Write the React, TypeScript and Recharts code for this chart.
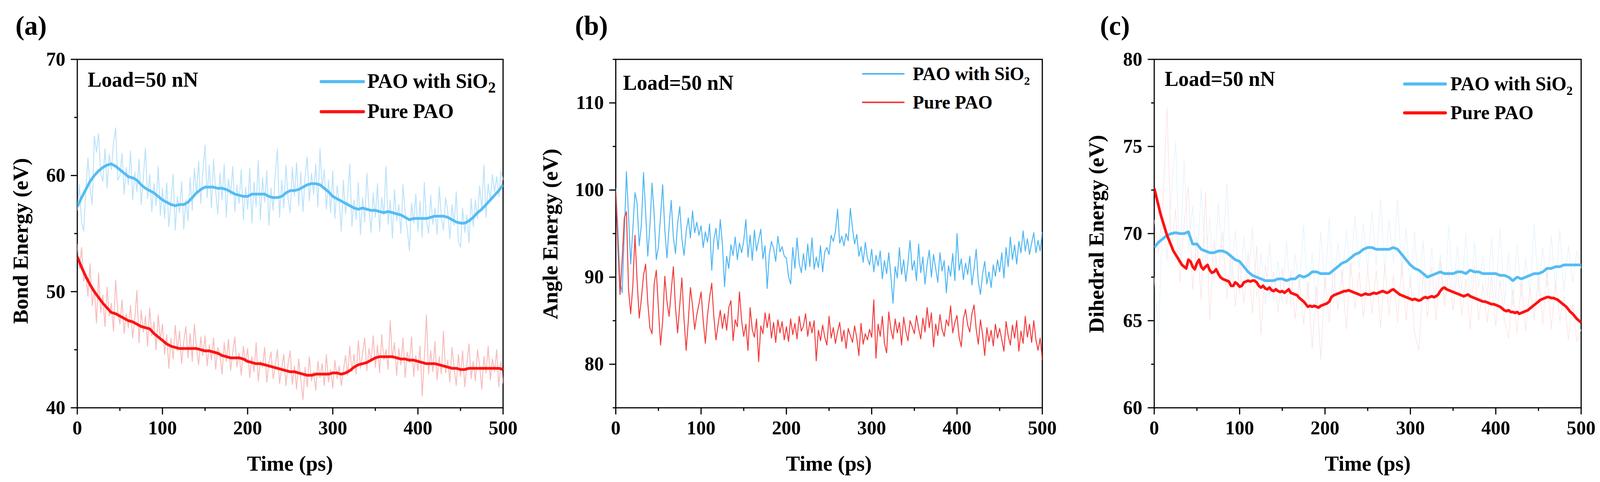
import { LineChart, Line, XAxis, YAxis, ReferenceArea } from 'recharts';

const FONT = '"Liberation Serif", "Times New Roman", Times, serif';

// the figure is laid out on a 4160 px wide sheet; the browser viewport is narrower,
// so the sheet is squeezed horizontally to fit it
const SHEET_W = 4160;
const SHEET_H = 1234;

// time axis: raw traces sampled every 2.5 ps, smoothed traces every 5 ps
const BASE_STEP = 2.5;
const X_TICKS = [0, 50, 100, 150, 200, 250, 300, 350, 400, 450, 500];
const X_MAJOR = [0, 100, 200, 300, 400, 500];

// ---------- (a) Bond energy ----------
const A_Y_TICKS = [40, 45, 50, 55, 60, 65, 70];
const A_Y_MAJOR = [40, 50, 60, 70];
const A_BLUE_RAW = [
  57.0, 59.2, 56.0, 55.2, 58.8, 61.5, 59.0, 57.5, 63.4, 62.0, 63.6, 60.2, 59.5, 62.3, 58.9, 61.8, 60.5, 62.8, 64.1, 59.6,
  60.0, 61.9, 58.4, 60.7, 59.2, 62.1, 57.9, 60.3, 58.6, 61.4, 57.5, 59.8, 62.4, 58.0, 60.1, 56.9, 59.3, 57.4, 60.8, 56.6,
  58.9, 56.3, 59.4, 55.6, 57.8, 60.1, 55.3, 58.2, 56.8, 59.5, 55.4, 57.9, 56.1, 59.8, 57.0, 60.6, 58.4, 61.2, 57.6, 60.4,
  62.6, 58.1, 60.9, 57.2, 61.4, 58.6, 56.7, 60.2, 57.9, 61.0, 56.4, 59.7, 58.3, 60.8, 56.9, 59.2, 57.6, 60.5, 56.2, 59.0,
  57.1, 60.6, 55.9, 59.4, 57.3, 61.3, 56.2, 59.8, 57.7, 60.4, 55.7, 58.9, 57.0, 60.2, 62.3, 56.4, 59.6, 57.2, 60.9, 58.0,
  56.8, 60.7, 58.2, 61.1, 57.4, 60.3, 56.9, 59.9, 61.6, 57.8, 60.2, 58.4, 61.0, 57.3, 62.3, 58.9, 60.5, 57.1, 59.6, 56.8,
  60.4, 56.3, 59.1, 57.8, 55.2, 59.6, 56.7, 58.3, 61.0, 55.6, 57.9, 56.2, 59.4, 54.9, 58.1, 56.0, 60.2, 57.3, 55.1, 58.5,
  56.4, 59.3, 55.2, 58.1, 56.6, 60.8, 55.8, 57.9, 54.6, 58.8, 56.1, 57.5, 55.0, 59.2, 56.8, 55.4, 53.5, 57.6, 55.9, 58.4,
  55.2, 57.8, 54.7, 59.4, 56.1, 55.0, 58.3, 55.8, 57.2, 54.9, 59.0, 56.4, 55.3, 58.1, 56.9, 54.6, 57.5, 55.7, 58.6, 54.3,
  53.8, 57.2, 55.1, 56.6, 54.2, 58.0, 55.6, 57.9, 56.3, 59.1, 57.0, 60.9, 56.4, 59.3, 57.8, 60.1, 58.6, 59.9, 58.2, 60.4,
  59.6,
];
const A_RED_RAW = [
  54.1, 52.0, 53.8, 50.9, 51.5, 49.6, 52.4, 48.8, 50.2, 47.3, 51.6, 48.2, 49.7, 47.0, 50.4, 47.9, 49.0, 46.6, 51.0, 48.3,
  47.2, 49.3, 46.4, 48.1, 46.9, 48.8, 46.0, 47.7, 50.1, 45.6, 48.4, 46.5, 47.9, 45.3, 48.6, 46.2, 47.4, 45.0, 48.0, 45.8,
  47.2, 44.6, 46.3, 43.4, 46.0, 44.2, 47.1, 44.9, 46.6, 43.8, 45.7, 47.0, 44.3, 46.4, 44.0, 47.2, 45.1, 43.7, 46.1, 44.5,
  46.2, 43.6, 45.4, 44.1, 46.0, 43.3, 45.2, 44.6, 42.9, 45.6, 44.0, 45.9, 43.2, 44.8, 46.1, 43.5, 44.7, 42.8, 45.3, 43.9,
  45.1, 42.6, 44.4, 43.1, 45.6, 42.3, 44.0, 43.5, 45.2, 42.2, 43.9, 44.8, 42.5, 43.7, 45.0, 42.1, 43.4, 44.6, 41.9, 43.8,
  44.9, 42.0, 43.6, 41.6, 44.2, 42.4, 40.7, 43.5, 41.8, 44.4, 42.3, 43.1, 41.5, 44.0, 42.6, 43.8, 41.9, 44.6, 42.2, 43.3,
  41.7, 44.1, 42.5, 43.6, 41.9, 43.2, 44.5, 42.8, 45.3, 43.1, 44.6, 42.9, 45.8, 43.4, 44.7, 46.0, 43.2, 45.1, 44.0, 46.2,
  43.5, 45.4, 43.0, 46.3, 44.1, 45.0, 43.3, 47.5, 44.2, 45.6, 42.8, 45.1, 43.7, 46.0, 42.6, 44.8, 43.9, 46.1, 42.7, 44.5,
  43.2, 45.3, 41.0, 44.2, 48.0, 42.9, 44.9, 43.1, 45.7, 42.4, 44.4, 42.9, 46.6, 43.0, 44.1, 42.2, 45.2, 43.4, 41.9, 44.6,
  42.7, 44.9, 41.8, 43.8, 45.5, 42.5, 44.0, 42.3, 45.0, 43.6, 41.6, 44.4, 43.0, 45.3, 42.4, 44.2, 43.1, 45.0, 41.8, 44.0,
  42.1,
];
const A_BLUE_SMOOTH = [
  57.3, 58.1, 58.8, 59.5, 60.0, 60.4, 60.7, 60.9, 61.0, 60.8,
  60.5, 60.2, 59.9, 59.8, 59.6, 59.2, 58.9, 58.7, 58.5, 58.2,
  57.9, 57.7, 57.5, 57.4, 57.5, 57.5, 57.7, 58.1, 58.5, 58.8,
  59.0, 59.0, 59.0, 58.9, 58.9, 58.8, 58.6, 58.4, 58.3, 58.2,
  58.2, 58.4, 58.4, 58.4, 58.4, 58.2, 58.1, 58.1, 58.2, 58.5,
  58.7, 58.7, 58.8, 59.0, 59.2, 59.3, 59.3, 59.2, 58.9, 58.6,
  58.2, 58.0, 57.8, 57.6, 57.4, 57.2, 57.1, 57.2, 57.1, 57.0,
  57.0, 56.9, 56.8, 56.9, 56.8, 56.7, 56.6, 56.4, 56.2, 56.3,
  56.3, 56.3, 56.3, 56.4, 56.5, 56.5, 56.5, 56.4, 56.2, 56.0,
  55.9, 55.9, 56.1, 56.4, 56.8, 57.1, 57.5, 57.9, 58.3, 58.7,
  59.2,
];
const A_RED_SMOOTH = [
  53.0, 52.1, 51.3, 50.6, 50.0, 49.5, 49.0, 48.6, 48.2, 48.1,
  47.9, 47.7, 47.5, 47.4, 47.2, 47.0, 46.9, 46.8, 46.4, 46.1,
  45.8, 45.5, 45.3, 45.2, 45.1, 45.1, 45.1, 45.1, 45.1, 45.0,
  44.9, 44.9, 44.8, 44.7, 44.5, 44.4, 44.3, 44.3, 44.3, 44.2,
  44.0, 43.9, 43.8, 43.8, 43.7, 43.6, 43.5, 43.4, 43.3, 43.2,
  43.1, 43.1, 43.0, 42.9, 42.8, 42.8, 42.9, 42.9, 42.9, 42.9,
  43.0, 43.0, 42.9, 43.0, 43.2, 43.5, 43.7, 43.8, 43.9, 44.1,
  44.3, 44.4, 44.4, 44.4, 44.4, 44.3, 44.2, 44.2, 44.1, 44.1,
  44.0, 43.9, 43.8, 43.8, 43.8, 43.7, 43.6, 43.5, 43.4, 43.4,
  43.3, 43.3, 43.4, 43.4, 43.4, 43.4, 43.4, 43.4, 43.4, 43.4,
  43.3,
];

// ---------- (b) Angle energy ----------
const B_Y_TICKS = [75, 80, 85, 90, 95, 100, 105, 110, 115];
const B_Y_MAJOR = [80, 90, 100, 110];
const B_BLUE = [
  100.2, 95.5, 89.5, 88.2, 95.0, 102.1, 97.0, 91.5, 95.5, 99.7, 98.5, 93.6, 96.0, 102.0, 97.5, 92.4, 95.8, 100.8, 97.2, 92.0,
  93.5, 97.0, 100.6, 95.4, 92.2, 95.8, 98.8, 94.6, 92.7, 96.2, 98.1, 94.4, 92.5, 95.2, 96.8, 94.5, 97.6, 95.1, 96.3, 94.8,
  95.9, 93.4, 95.2, 94.0, 96.1, 90.8, 94.3, 95.6, 93.2, 96.6, 93.8, 88.9, 92.4, 91.0, 93.7, 92.5, 94.6, 92.0, 93.9, 92.8,
  94.2, 96.6, 92.3, 94.8, 91.9, 95.4, 93.0, 94.3, 95.5, 92.1, 93.6, 88.7, 92.6, 94.1, 93.3, 91.8, 94.7, 92.9, 93.5, 92.4,
  92.2, 90.1, 89.2, 93.4, 91.0, 94.5, 91.6, 90.5, 92.7, 90.8, 93.8, 91.2, 94.5, 90.9, 92.3, 91.1, 93.6, 90.6, 92.9, 93.4,
  92.6, 94.8, 94.1, 95.2, 97.8, 93.9, 94.7, 93.6, 95.0, 94.2, 97.9, 95.6, 93.8, 94.9, 92.4, 93.5, 91.7, 94.0, 92.2, 91.4,
  93.2, 90.6, 92.5, 91.3, 93.0, 89.8, 91.9, 90.4, 92.8, 90.1, 87.0, 91.2, 89.9, 93.4, 90.3, 92.0, 89.5, 91.6, 94.2, 90.8,
  91.9, 89.6, 93.8, 90.5, 92.3, 89.2, 91.5, 93.1, 90.0, 92.6, 91.0, 89.4, 92.8, 90.7, 91.9, 88.2, 91.3, 90.1, 92.7, 89.6,
  95.0, 90.8, 92.1, 89.7, 91.6, 90.3, 92.4, 89.1, 91.0, 93.2, 89.5, 88.0, 90.4, 91.8, 89.2, 90.6, 88.8, 91.4, 90.1, 92.0,
  90.6, 92.8, 89.9, 93.4, 91.2, 94.6, 92.0, 93.7, 91.5, 94.1, 92.8, 95.3, 93.0, 94.4, 92.6, 93.9, 95.1, 92.8, 94.2, 93.0,
  95.2,
];
const B_RED = [
  99.8, 93.5, 88.0, 92.0, 96.8, 97.5, 88.5, 85.8, 89.0, 94.8, 89.6, 85.3, 87.5, 90.2, 91.5, 87.1, 84.2, 83.5, 89.2, 90.8,
  86.4, 82.2, 85.0, 90.1, 87.2, 85.5, 88.4, 91.2, 86.5, 83.6, 86.8, 89.9, 85.2, 81.6, 84.9, 88.8, 86.7, 84.0, 85.7, 86.9,
  88.3, 85.0, 82.4, 85.6, 87.7, 89.3, 85.4, 82.8, 84.6, 86.2, 84.1, 85.8, 83.9, 86.5, 87.3, 82.7, 85.1, 84.3, 88.3, 85.0,
  83.2, 84.6, 81.6, 86.5, 84.0, 83.1, 85.2, 80.3, 84.4, 83.5, 85.9, 84.2, 85.8, 83.0, 84.8, 82.5, 85.1, 83.6, 84.9, 82.8,
  84.3, 82.6, 85.2, 83.4, 84.7, 82.9, 85.5, 83.8, 84.4, 85.8, 83.2, 84.9, 83.6, 85.0, 80.4, 83.9, 82.7, 84.5, 83.1, 82.2,
  85.5, 83.0, 84.2, 82.4, 83.7, 84.8, 82.6, 83.9, 81.8, 84.1, 83.3, 82.5, 84.4, 83.0, 81.0, 84.7, 82.3, 83.5, 82.8, 84.0,
  83.1, 87.4, 80.7, 84.6, 83.2, 85.5, 82.4, 81.3, 86.0, 84.0, 82.9, 85.2, 83.6, 84.8, 82.2, 85.4, 83.8, 82.7, 85.0, 84.3,
  83.5, 85.6, 84.1, 82.9, 85.3, 83.7, 86.5, 84.2, 85.9, 82.0, 84.6, 83.3, 85.7, 84.0, 83.2, 85.1, 84.4, 86.7, 83.6, 84.8,
  85.6, 83.1, 82.0, 85.2, 86.3, 84.5, 83.7, 85.8, 86.8, 84.0, 82.3, 85.1, 83.4, 81.0, 84.2, 82.6, 83.9, 82.1, 84.6, 83.0,
  84.1, 82.8, 81.5, 84.9, 83.3, 82.2, 84.5, 83.0, 85.0, 81.5, 83.8, 82.4, 85.5, 83.1, 84.6, 82.5, 85.0, 82.8, 81.6, 83.0,
  80.5,
];

// ---------- (c) Dihedral energy ----------
const C_Y_TICKS = [60, 62.5, 65, 67.5, 70, 72.5, 75, 77.5, 80];
const C_Y_MAJOR = [60, 65, 70, 75, 80];
const C_BLUE_RAW = [
  67.5, 64.2, 71.2, 68.4, 72.3, 75.3, 68.1, 74.2, 69.0, 71.6,
  67.8, 72.6, 68.3, 70.9, 67.2, 71.8, 68.5, 72.9, 67.4, 70.2,
  66.5, 69.8, 67.0, 70.4, 66.3, 68.9, 65.9, 69.5, 66.1, 68.4,
  66.0, 69.6, 65.8, 68.8, 66.9, 70.5, 66.2, 68.9, 65.5, 70.1,
  66.8, 70.9, 66.4, 69.5, 67.1, 70.2, 67.6, 71.0, 68.0, 70.6,
  67.9, 71.3, 68.2, 72.0, 67.8, 70.8, 68.3, 72.0, 67.5, 70.3,
  66.9, 70.1, 66.4, 69.6, 66.0, 69.2, 66.6, 68.8, 66.2, 70.5,
  66.4, 69.3, 66.7, 70.0, 66.1, 69.5, 66.9, 68.7, 66.3, 69.8,
  66.2, 70.3, 66.0, 68.9, 65.8, 69.4, 66.3, 68.6, 66.5, 70.6,
  66.6, 69.2, 67.0, 69.9, 66.8, 70.2, 66.7, 69.3, 67.2, 69.0,
  68.0,
];
const C_RED_RAW = [
  70.8, 68.9, 71.5, 77.2, 69.0, 71.4, 67.2, 70.5, 72.7, 66.8,
  69.8, 66.2, 72.4, 65.0, 69.6, 67.5, 70.1, 66.3, 68.9, 65.8,
  68.5, 66.0, 68.9, 65.4, 69.3, 64.2, 68.2, 66.5, 67.8, 65.5,
  68.0, 65.9, 67.9, 65.1, 67.5, 64.8, 67.2, 63.4, 67.0, 62.8,
  67.5, 64.9, 68.1, 65.6, 67.9, 64.5, 68.3, 65.7, 67.8, 65.2,
  68.0, 65.4, 67.9, 64.6, 68.2, 65.3, 67.6, 64.9, 68.4, 65.0,
  67.5, 64.3, 63.3, 67.8, 65.2, 68.1, 65.0, 68.4, 65.8, 67.9,
  65.6, 68.0, 65.3, 67.4, 64.5, 68.2, 65.0, 67.1, 64.9, 67.6,
  64.7, 67.3, 65.1, 64.0, 66.8, 64.3, 67.2, 64.4, 66.9, 65.1,
  67.6, 64.8, 67.9, 64.5, 67.2, 65.0, 66.4, 63.9, 66.0, 63.8,
  64.5,
];
const C_BLUE_SMOOTH = [
  69.2, 69.5, 69.7, 69.9, 70.0, 70.05, 70.0, 70.0, 70.1, 69.4,
  69.4, 69.1, 69.0, 68.9, 68.9, 69.0, 69.0, 68.9, 68.7, 68.5,
  68.4, 68.1, 67.8, 67.6, 67.5, 67.4, 67.3, 67.3, 67.3, 67.4,
  67.4, 67.3, 67.4, 67.4, 67.6, 67.5, 67.6, 67.8, 67.8, 67.7,
  67.7, 67.7, 67.9, 68.1, 68.3, 68.4, 68.6, 68.8, 68.9, 69.1,
  69.2, 69.2, 69.1, 69.1, 69.1, 69.1, 69.2, 69.1, 68.8, 68.5,
  68.2, 68.0, 67.9, 67.7, 67.5, 67.6, 67.7, 67.8, 67.7, 67.7,
  67.7, 67.8, 67.8, 67.7, 67.9, 67.8, 67.8, 67.7, 67.7, 67.7,
  67.7, 67.6, 67.6, 67.5, 67.3, 67.5, 67.4, 67.5, 67.6, 67.7,
  67.7, 67.8, 68.0, 68.0, 68.1, 68.1, 68.2, 68.2, 68.2, 68.2,
  68.2,
];
const C_RED_SMOOTH = [
  72.6, 72.1, 71.6, 71.1, 70.7, 70.3, 69.9, 69.6, 69.3, 69.0, 68.8, 68.6, 68.4, 68.2, 68.1, 68.0, 68.5, 68.4, 68.1, 67.95,
  68.3, 68.5, 68.1, 67.95, 68.1, 68.2, 67.9, 67.75, 67.8, 67.95, 67.7, 67.5, 67.4, 67.35, 67.3, 67.25, 67.0, 67.0, 67.2, 67.1,
  66.95, 67.0, 67.2, 67.25, 67.3, 67.25, 67.3, 67.3, 67.2, 67.0, 66.9, 67.0, 66.85, 66.8, 66.9, 66.75, 66.7, 66.8, 66.7, 66.65,
  66.7, 66.6, 66.7, 66.8, 66.6, 66.55, 66.5, 66.45, 66.3, 66.2, 66.1, 65.95, 65.8, 65.85, 65.8, 65.85, 65.8, 65.75, 65.85, 65.9,
  65.95, 66.0, 66.1, 66.35, 66.45, 66.5, 66.55, 66.6, 66.65, 66.7, 66.7, 66.75, 66.7, 66.65, 66.6, 66.55, 66.5, 66.45, 66.5, 66.55,
  66.5, 66.5, 66.55, 66.6, 66.55, 66.6, 66.65, 66.7, 66.65, 66.6, 66.65, 66.75, 66.8, 66.7, 66.6, 66.5, 66.45, 66.4, 66.35, 66.3,
  66.25, 66.2, 66.25, 66.2, 66.15, 66.2, 66.3, 66.35, 66.3, 66.35, 66.4, 66.35, 66.4, 66.5, 66.7, 66.85, 66.9, 66.8, 66.75, 66.7,
  66.65, 66.6, 66.55, 66.5, 66.45, 66.4, 66.45, 66.5, 66.4, 66.35, 66.3, 66.25, 66.2, 66.15, 66.1, 66.1, 66.05, 66.0, 65.95, 65.95,
  65.9, 65.85, 65.8, 65.7, 65.6, 65.55, 65.6, 65.5, 65.5, 65.45, 65.5, 65.4, 65.45, 65.5, 65.55, 65.6, 65.7, 65.8, 65.9, 66.0,
  66.1, 66.2, 66.25, 66.3, 66.35, 66.35, 66.3, 66.3, 66.25, 66.2, 66.1, 66.0, 65.9, 65.8, 65.65, 65.5, 65.4, 65.25, 65.1, 65.0,
  64.9,
];

// colours
const BLUE = '#55BCF4';
const RED = '#FF1212';
const BLUE_THIN = '#4DB6F3';
const RED_THIN = '#F23B3B';
const BLUE_PALE = '#BDE3FA';
const RED_PALE = '#F8BDBD';
const BLUE_FAINT = '#E2F2FD';
const RED_FAINT = '#FCE0E0';

type Series = { key: string; step: number; values: number[] };

function buildRows(series: Series[]) {
  const rows: Record<string, number>[] = [];
  for (let i = 0; i <= 500 / BASE_STEP; i++) {
    const row: Record<string, number> = { t: i * BASE_STEP };
    series.forEach(s => {
      const r = s.step / BASE_STEP;
      if (i % r === 0 && s.values[i / r] !== undefined) row[s.key] = s.values[i / r];
    });
    rows.push(row);
  }
  return rows;
}

// layout: every chart is 1400 wide, plot box from y=152 to y=1044
const CHART_W = 1400;
const CHART_H = 1234;
const PLOT_LEFT = 201;
const PLOT_TOP = 152;
const PLOT_BOTTOM = 1044;
const AXIS_W = 100;
const AXIS_H = 100;

const tickText = { fontFamily: FONT, fontWeight: 700, fontSize: 50, fill: '#000' };

const XTick = ({ x, payload }: any) => {
  const major = X_MAJOR.includes(payload.value);
  return (
    <g>
      <line x1={x} x2={x} y1={PLOT_BOTTOM} y2={PLOT_BOTTOM + (major ? 17 : 8)} stroke="#000" strokeWidth={3} />
      {major && <text x={x} y={PLOT_BOTTOM + 68} textAnchor="middle" {...tickText}>{payload.value}</text>}
    </g>
  );
};

const makeYTick = (majors: number[]) => ({ y, payload }: any) => {
  const major = majors.includes(payload.value);
  return (
    <g>
      <line x1={PLOT_LEFT - (major ? 17 : 8)} x2={PLOT_LEFT} y1={y} y2={y} stroke="#000" strokeWidth={3} />
      {major && <text x={PLOT_LEFT - 31} y={y + 16} textAnchor="end" {...tickText}>{payload.value}</text>}
    </g>
  );
};

type LineSpec = { key: string; color: string; width: number };

type PanelProps = {
  left: number;
  rightMargin: number;
  domain: [number, number];
  yTicks: number[];
  yMajor: number[];
  rows: Record<string, number>[];
  lines: LineSpec[];
};

function Panel({ left, rightMargin, domain, yTicks, yMajor, rows, lines }: PanelProps) {
  return (
    <div style={{ position: 'absolute', left, top: 0 }}>
      <LineChart width={CHART_W} height={CHART_H} data={rows}
        margin={{ top: PLOT_TOP, right: rightMargin, left: PLOT_LEFT - AXIS_W, bottom: CHART_H - PLOT_BOTTOM - AXIS_H }}>
        <XAxis dataKey="t" type="number" domain={[0, 500]} ticks={X_TICKS} interval={0}
          allowDataOverflow axisLine={false} tickLine={false} height={AXIS_H} tick={XTick} />
        <YAxis type="number" domain={domain} ticks={yTicks} interval={0}
          allowDataOverflow axisLine={false} tickLine={false} width={AXIS_W} tick={makeYTick(yMajor)} />
        <ReferenceArea x1={0} x2={500} y1={domain[0]} y2={domain[1]} fill="none" fillOpacity={0}
          stroke="#000" strokeWidth={3} />
        {lines.map(l => (
          <Line key={l.key} dataKey={l.key} type="linear" stroke={l.color} strokeWidth={l.width}
            dot={false} activeDot={false} connectNulls isAnimationActive={false} strokeLinejoin="round" />
        ))}
      </LineChart>
    </div>
  );
}

const rowsA = buildRows([
  { key: 'blueRaw', step: 2.5, values: A_BLUE_RAW },
  { key: 'redRaw', step: 2.5, values: A_RED_RAW },
  { key: 'blue', step: 5, values: A_BLUE_SMOOTH },
  { key: 'red', step: 5, values: A_RED_SMOOTH },
]);
const rowsB = buildRows([
  { key: 'blue', step: 2.5, values: B_BLUE },
  { key: 'red', step: 2.5, values: B_RED },
]);
const rowsC = buildRows([
  { key: 'blueRaw', step: 5, values: C_BLUE_RAW },
  { key: 'redRaw', step: 5, values: C_RED_RAW },
  { key: 'blue', step: 5, values: C_BLUE_SMOOTH },
  { key: 'red', step: 2.5, values: C_RED_SMOOTH },
]);

// text overlay (panel letters, annotations, legends, axis titles)
const bold = { fontFamily: FONT, fontWeight: 700, fill: '#000' };

type LegendSpec = {
  x1: number; x2: number; tx: number; y1: number; y2: number;
  stroke: number; font: number; sub: number; blue: string; red: string;
};

function LegendBox({ x1, x2, tx, y1, y2, stroke, font, sub, blue, red }: LegendSpec) {
  return (
    <g>
      <line x1={x1} x2={x2} y1={y1} y2={y1} stroke={blue} strokeWidth={stroke} strokeLinecap="round" />
      <text x={tx} y={y1 + 16} fontSize={font} {...bold}>
        PAO with SiO<tspan fontSize={sub} dy={12}>2</tspan>
      </text>
      <line x1={x1} x2={x2} y1={y2} y2={y2} stroke={red} strokeWidth={stroke} strokeLinecap="round" />
      <text x={tx} y={y2 + 16} fontSize={font} {...bold}>Pure PAO</text>
    </g>
  );
}

function YTitle({ x, y, label }: { x: number; y: number; label: string }) {
  return (
    <text x={x} y={y} transform={`rotate(-90 ${x} ${y})`} textAnchor="middle" fontSize={55} {...bold}>{label}</text>
  );
}

export default function App() {
  const squeeze = Math.min(1, window.innerWidth / SHEET_W);
  return (
    <div style={{ position: 'absolute', left: 0, top: 0, width: SHEET_W, height: SHEET_H, background: '#fff',
      overflow: 'hidden', transform: `scaleX(${squeeze})`, transformOrigin: '0 0' }}>
      <Panel left={0} rightMargin={92} domain={[40, 70]} yTicks={A_Y_TICKS} yMajor={A_Y_MAJOR} rows={rowsA}
        lines={[
          { key: 'blueRaw', color: BLUE_PALE, width: 2.5 },
          { key: 'redRaw', color: RED_PALE, width: 2.5 },
          { key: 'blue', color: BLUE, width: 7 },
          { key: 'red', color: RED, width: 7 },
        ]} />
      <Panel left={1400} rightMargin={90} domain={[75, 115]} yTicks={B_Y_TICKS} yMajor={B_Y_MAJOR} rows={rowsB}
        lines={[
          { key: 'blue', color: BLUE_THIN, width: 2.5 },
          { key: 'red', color: RED_THIN, width: 2.5 },
        ]} />
      <Panel left={2800} rightMargin={89} domain={[60, 80]} yTicks={C_Y_TICKS} yMajor={C_Y_MAJOR} rows={rowsC}
        lines={[
          { key: 'blueRaw', color: BLUE_FAINT, width: 1.5 },
          { key: 'redRaw', color: RED_FAINT, width: 1.5 },
          { key: 'blue', color: BLUE, width: 7 },
          { key: 'red', color: RED, width: 7 },
        ]} />

      <svg width={SHEET_W} height={SHEET_H} style={{ position: 'absolute', left: 0, top: 0, pointerEvents: 'none' }}>
        {/* (a) */}
        <text x={40} y={89} fontSize={70} {...bold}>(a)</text>
        <text x={228} y={222} fontSize={54} {...bold}>Load=50 nN</text>
        <LegendBox x1={835} x2={945} tx={955} y1={209} y2={286} stroke={8} font={52} sub={40} blue={BLUE} red={RED} />
        <YTitle x={72} y={617} label="Bond Energy (eV)" />
        <text x={754} y={1205} textAnchor="middle" fontSize={55} {...bold}>Time (ps)</text>

        {/* (b) */}
        <text x={1495} y={89} fontSize={70} {...bold}>(b)</text>
        <text x={1620} y={230} fontSize={54} {...bold}>Load=50 nN</text>
        <LegendBox x1={2243} x2={2350} tx={2373} y1={189} y2={262} stroke={4} font={48} sub={30} blue={BLUE_THIN} red={RED_THIN} />
        <YTitle x={1449} y={599} label="Angle Energy (eV)" />
        <text x={2155} y={1205} textAnchor="middle" fontSize={55} {...bold}>Time (ps)</text>

        {/* (c) */}
        <text x={2860} y={89} fontSize={70} {...bold}>(c)</text>
        <text x={3028} y={220} fontSize={54} {...bold}>Load=50 nN</text>
        <LegendBox x1={3652} x2={3758} tx={3771} y1={215} y2={289} stroke={8} font={50} sub={32} blue={BLUE} red={RED} />
        <YTitle x={2869} y={599} label="Dihedral Energy (eV)" />
        <text x={3556} y={1205} textAnchor="middle" fontSize={55} {...bold}>Time (ps)</text>
      </svg>
    </div>
  );
}
